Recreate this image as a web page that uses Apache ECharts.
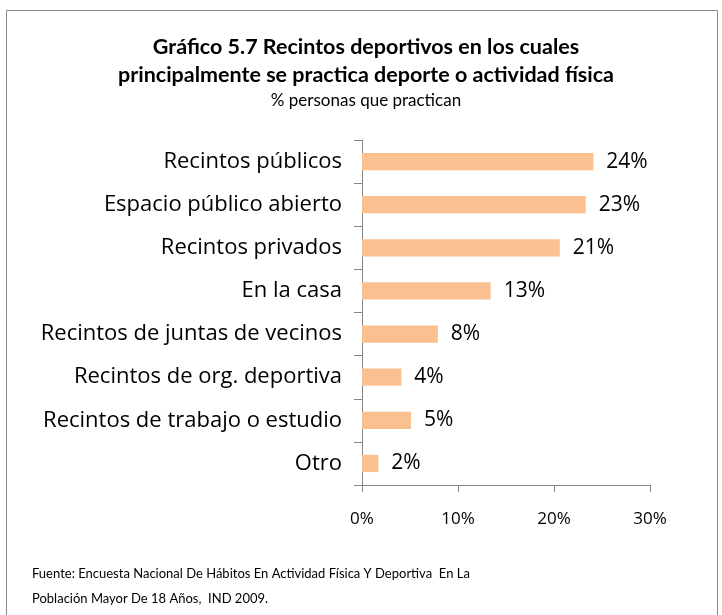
<!DOCTYPE html>
<html>
<head>
<meta charset="utf-8">
<script src="https://cdn.jsdelivr.net/npm/echarts@6/dist/echarts.min.js"></script>
<style>
  html, body { margin: 0; padding: 0; background: #fff; }
  #chart { width: 722px; height: 615px; }
</style>
</head>
<body>
<div id="chart"></div>
<script>
const categories = [
  "Recintos públicos",
  "Espacio público abierto",
  "Recintos privados",
  "En la casa",
  "Recintos de juntas de vecinos",
  "Recintos de org. deportiva",
  "Recintos de trabajo o estudio",
  "Otro"
];
// bar lengths (%), and the printed labels
const values = [24.1, 23.3, 20.6, 13.4, 7.9, 4.1, 5.1, 1.7];
const labels = ["24%", "23%", "21%", "13%", "8%", "4%", "5%", "2%"];
const xTicks = [0, 10, 20, 30];

const font = "'Open Sans', Lato, sans-serif";
const titleFont = "Lato, 'Open Sans', sans-serif";
const axisGray = "#868686";

const chart = echarts.init(document.getElementById("chart"));

chart.setOption({
  animation: false,
  backgroundColor: "#fff",
  textStyle: { fontFamily: font, color: "#000" },
  title: [
    {
      text: "Gráfico 5.7 Recintos deportivos en los cuales\nprincipalmente se practica deporte o actividad física",
      left: 361, top: 28, textAlign: "center",
      textStyle: { fontFamily: titleFont, fontSize: 21.5, fontWeight: "bold", lineHeight: 28, color: "#000" }
    },
    {
      text: "% personas que practican",
      left: 361, top: 87, textAlign: "center",
      textStyle: { fontFamily: titleFont, fontSize: 17, fontWeight: "normal", color: "#000" }
    }
  ],
  graphic: [
    {
      type: "rect",
      shape: { x: 6.5, y: 10.5, width: 711, height: 620 },
      style: { fill: "none", stroke: "#888", lineWidth: 1 }
    },
    {
      type: "text", left: 32, top: 561,
      style: {
        text: "Fuente: Encuesta Nacional De Hábitos En Actividad Física Y Deportiva  En La\nPoblación Mayor De 18 Años,  IND 2009.",
        font: "13px " + titleFont, lineHeight: 25, fill: "#000"
      }
    }
  ],
  grid: { left: 362, right: 72, top: 140, bottom: 130, containLabel: false },
  xAxis: {
    type: "value",
    min: 0, max: 30, interval: 10,
    axisLine: { show: true, lineStyle: { color: axisGray } },
    axisTick: { show: true, length: 7, lineStyle: { color: axisGray } },
    splitLine: { show: false },
    axisLabel: {
      margin: 26, fontSize: 17, fontFamily: font, color: "#000",
      formatter: v => xTicks.includes(v) ? v + "%" : ""
    }
  },
  yAxis: {
    type: "category",
    data: categories,
    inverse: true,
    axisLine: { show: true, lineStyle: { color: axisGray } },
    axisTick: { show: true, length: 8, lineStyle: { color: axisGray } },
    axisLabel: { margin: 20, fontSize: 22, fontFamily: font, color: "#000" }
  },
  series: [
    {
      type: "bar",
      data: values,
      barCategoryGap: "60%",
      itemStyle: { color: "#FAC090" },
      label: {
        show: true, position: "right", distance: 13,
        fontSize: 21, fontFamily: font, color: "#000",
        formatter: p => labels[p.dataIndex]
      }
    }
  ]
});
</script>
</body>
</html>
